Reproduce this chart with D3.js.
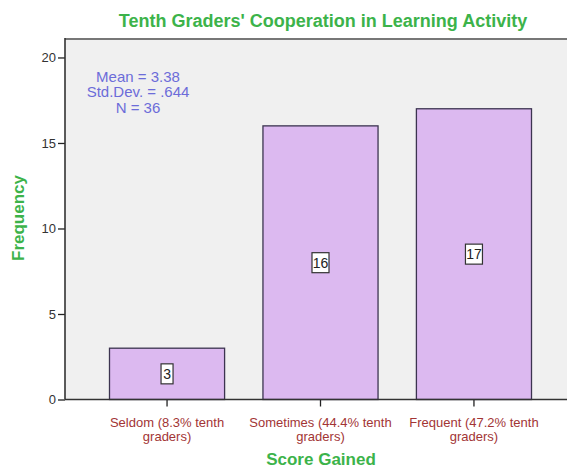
<!DOCTYPE html>
<html><head><meta charset="utf-8">
<script src="https://cdn.jsdelivr.net/npm/d3@7"></script>
<style>body{margin:0;background:#fff}svg{display:block}</style>
</head><body>
<script>
const categories = ["Seldom (8.3% tenth|graders)", "Sometimes (44.4% tenth|graders)", "Frequent (47.2% tenth|graders)"];
const frequencies = [3, 16, 17];
const yTicks = [0, 5, 10, 15, 20];
const statsLines = ["Mean = 3.38", "Std.Dev. = .644", "N = 36"];
const chartTitle = "Tenth Graders' Cooperation in Learning Activity";
const xTitle = "Score Gained";
const yTitle = "Frequency";

const W = 567, H = 471;
const mLeft = 65, mRight = 576, mTop = 39, mBottom = 399.5;
const font = "'Liberation Sans', Arial, sans-serif";

const svg = d3.select("body").append("svg").attr("width", W).attr("height", H);

const x = d3.scaleBand().domain(categories).range([mLeft, mRight]).paddingInner(0.25).paddingOuter(0.29);
const y = d3.scaleLinear().domain([0, 21.08]).range([mBottom, mTop]);

// plot background
svg.append("rect").attr("x", mLeft).attr("y", mTop).attr("width", W - mLeft).attr("height", mBottom - mTop).attr("fill", "#f0f0f0");
// top frame line
svg.append("line").attr("x1", mLeft).attr("x2", W).attr("y1", mTop).attr("y2", mTop).attr("stroke", "#777").attr("stroke-width", 2);

// bars
svg.selectAll("rect.bar").data(categories).enter().append("rect").attr("class", "bar")
  .attr("x", d => x(d)).attr("width", x.bandwidth())
  .attr("y", (d, i) => y(frequencies[i])).attr("height", (d, i) => y(0) - y(frequencies[i]))
  .attr("fill", "#dcb9f0").attr("stroke", "#3c3450").attr("stroke-width", 1.3);

// value labels
const lab = svg.selectAll("g.lab").data(categories).enter().append("g").attr("class", "lab")
  .attr("transform", (d, i) => `translate(${x(d) + x.bandwidth() / 2},${(y(frequencies[i]) + y(0)) / 2})`);
lab.append("rect").attr("x", (d, i) => String(frequencies[i]).length > 1 ? -8.5 : -6)
  .attr("width", (d, i) => String(frequencies[i]).length > 1 ? 17 : 12)
  .attr("y", -10).attr("height", 20).attr("fill", "#fff").attr("stroke", "#333").attr("stroke-width", 1.2);
lab.append("text").attr("text-anchor", "middle").attr("y", 5).attr("font-family", font).attr("font-size", 14)
  .attr("fill", "#222").text((d, i) => frequencies[i]);

// y axis
const yAxis = svg.append("g").attr("transform", `translate(${mLeft},0)`)
  .call(d3.axisLeft(y).tickValues(yTicks).tickSize(7).tickPadding(2).tickFormat(d3.format("d")));
yAxis.select(".domain").remove();
yAxis.selectAll(".tick line").attr("stroke", "#222").attr("stroke-width", 1.3);
yAxis.selectAll(".tick text").attr("font-family", font).attr("font-size", 13).attr("fill", "#333");
svg.append("line").attr("x1", mLeft).attr("x2", mLeft).attr("y1", mTop - 1).attr("y2", mBottom).attr("stroke", "#333").attr("stroke-width", 1.6);

// x axis
const xAxis = svg.append("g").attr("transform", `translate(0,${mBottom})`)
  .call(d3.axisBottom(x).tickSize(7).tickFormat(""));
xAxis.select(".domain").remove();
xAxis.selectAll(".tick line").attr("stroke", "#222").attr("stroke-width", 1.3);
svg.append("line").attr("x1", mLeft).attr("x2", W).attr("y1", mBottom).attr("y2", mBottom).attr("stroke", "#333").attr("stroke-width", 1.6);

// x tick labels (two lines)
const xl = svg.selectAll("text.xl").data(categories).enter().append("text").attr("class", "xl")
  .attr("text-anchor", "middle").attr("font-family", font).attr("font-size", 13).attr("fill", "#a23535")
  .attr("transform", d => `translate(${x(d) + x.bandwidth() / 2},0)`);
xl.selectAll("tspan").data(d => d.split("|")).enter().append("tspan")
  .attr("x", 0).attr("y", (d, i) => 427 + i * 13.5).text(d => d);

// stats
svg.selectAll("text.st").data(statsLines).enter().append("text").attr("class", "st")
  .attr("x", 138).attr("y", (d, i) => 81.5 + i * 15.5).attr("text-anchor", "middle")
  .attr("font-family", font).attr("font-size", 15).attr("fill", "#6c6cd9").text(d => d);

// titles
svg.append("text").attr("x", 323).attr("y", 27).attr("text-anchor", "middle").attr("font-family", font)
  .attr("font-weight", "bold").attr("font-size", 18).attr("fill", "#3cb34a").text(chartTitle);
svg.append("text").attr("x", 321).attr("y", 465).attr("text-anchor", "middle").attr("font-family", font)
  .attr("font-weight", "bold").attr("font-size", 17).attr("fill", "#3cb34a").text(xTitle);
svg.append("text").attr("transform", "translate(24,218) rotate(-90)").attr("text-anchor", "middle").attr("font-family", font)
  .attr("font-weight", "bold").attr("font-size", 17).attr("fill", "#3cb34a").text(yTitle);
</script>
</body></html>
